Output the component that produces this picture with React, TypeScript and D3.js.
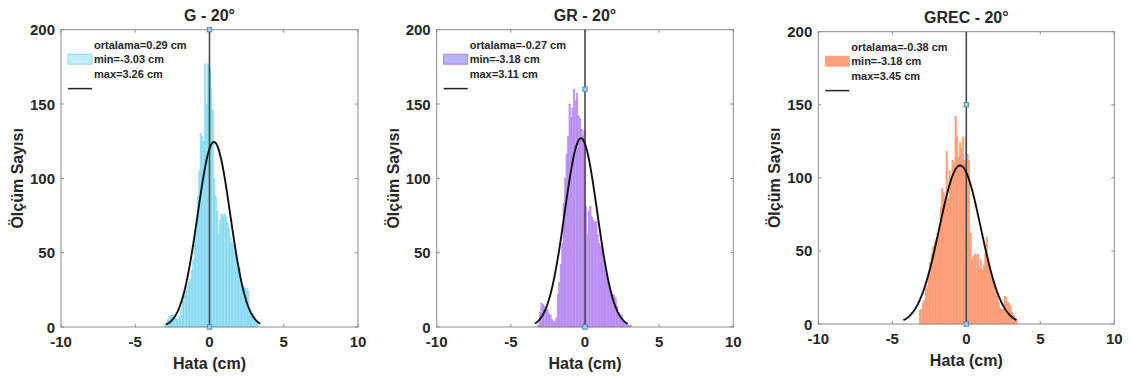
import React from "react";
import * as d3 from "d3";

// ---------- data ----------
const panelTitles = ["G - 20°", "GR - 20°", "GREC - 20°"];
const xTicks = [-10, -5, 0, 5, 10];
const yTicks = [0, 50, 100, 150, 200];

const errMeans = [0.29, -0.27, -0.38];
const errMins = [-3.03, -3.18, -3.18];
const errMaxs = [3.26, 3.11, 3.45];

const gCounts = [
  2, 3, 5, 7, 8, 8, 7, 6, 5, 5, 7, 12, 17, 21, 24, 27, 30, 32, 38, 45, 58, 65,
  88, 105, 130, 128, 125, 177, 150, 177, 175, 160, 146, 100, 88, 78, 62, 72, 76,
  74, 76, 74, 70, 66, 60, 57, 55, 52, 48, 42, 40, 32, 28, 27, 26, 26, 24, 12,
  10, 9, 7, 4, 3,
];
const grCounts = [
  1, 10, 16, 15, 14, 11, 12, 9, 8, 5, 4, 3, 6, 22, 30, 42, 56, 83, 100, 116,
  128, 150, 141, 147, 160, 152, 157, 142, 140, 133, 128, 132, 81, 62, 78, 81,
  74, 72, 70, 71, 62, 56, 54, 54, 45, 38, 36, 30, 25, 24, 22, 21, 19, 14, 10, 8,
  8, 5, 4, 2, 1, 1, 1,
];
const grecCounts = [
  9, 10, 14, 16, 24, 26, 36, 42, 48, 53, 56, 58, 62, 64, 80, 93, 90, 85, 118,
  86, 105, 100, 112, 110, 142, 128, 114, 124, 120, 128, 112, 128, 116, 112, 62,
  44, 46, 48, 47, 48, 39, 44, 37, 40, 48, 59, 45, 40, 32, 29, 26, 22, 19, 15,
  11, 10, 10, 19, 18, 15, 14, 12, 8, 6, 4, 2,
];
const allCounts = [gCounts, grCounts, grecCounts];

// fitted normal curve parameters
const fitMu = [0.3, -0.27, -0.42];
const fitSigma = [1.1, 1.1, 1.4];
const fitPeak = [124.5, 127, 108.5];
const fitLo = [-2.93, -3.38, -4.25];
const fitHi = [3.42, 2.88, 3.4];

const zeroMarkerTops = [200, 160, 150];

// ---------- styles / layout ----------
const layout = [
  { left: 61, top: 29.7, width: 297, height: 297.3, titleY: 21 },
  { left: 436.7, top: 29.7, width: 296.6, height: 297.3, titleY: 21 },
  { left: 818.3, top: 31.7, width: 296, height: 292.3, titleY: 23 },
];
const barFill = ["#a6e5f7", "#bcaaf3", "#ffa988"];
const barStroke = ["#6dd0f0", "#b86af6", "#ff8a5e"];
const legendFill = ["#bdeefb", "#b9b3f5", "#ffa07a"];
const legendStroke = ["#7fd6f2", "#b06cf5", "#ffa07a"];

const FONT = "'Liberation Sans', Arial, Helvetica, sans-serif";
const TXT = "#262626";

function Panel({ i }: { i: number }) {
  const L = layout[i];
  const counts = allCounts[i];
  const x = d3.scaleLinear().domain([-10, 10]).range([L.left, L.left + L.width]);
  const y = d3.scaleLinear().domain([0, 200]).range([L.top + L.height, L.top]);
  const bw = (errMaxs[i] - errMins[i]) / counts.length;
  const edges = counts.map((_, k) => errMins[i] + k * bw);

  const curveXs = d3.range(0, 101).map((k) => fitLo[i] + ((fitHi[i] - fitLo[i]) * k) / 100);
  const curvePts: [number, number][] = curveXs.map((v) => [
    v,
    fitPeak[i] * Math.exp(-0.5 * Math.pow((v - fitMu[i]) / fitSigma[i], 2)),
  ]);
  const line = d3
    .line<[number, number]>()
    .x((d) => x(d[0]))
    .y((d) => y(d[1]))
    .curve(d3.curveLinear);

  const axisColor = "#8c8c8c";
  const tickLen = 3;
  const bottom = L.top + L.height;
  const right = L.left + L.width;
  const cx = L.left + L.width / 2;

  const legLeft = L.left + 7;
  const legText = L.left + 33;
  const rowY = (r: number) => L.top + 14.8 + r * 14.7;

  const fmt = (v: number) => v.toFixed(2);

  return (
    <g>
      {/* bars */}
      {counts.map((c, k) =>
        c > 0 ? (
          <rect
            key={k}
            x={x(edges[k])}
            y={y(c)}
            width={x(edges[k] + bw) - x(edges[k])}
            height={y(0) - y(c)}
            fill={barFill[i]}
            stroke={barStroke[i]}
            strokeWidth={0.45}
          />
        ) : null
      )}
      {/* axes box */}
      <rect x={L.left} y={L.top} width={L.width} height={L.height} fill="none" stroke={axisColor} strokeWidth={1} />
      {/* ticks */}
      {xTicks.map((t) => (
        <g key={"xt" + t}>
          <line x1={x(t)} x2={x(t)} y1={bottom} y2={bottom - tickLen} stroke={axisColor} />
          <line x1={x(t)} x2={x(t)} y1={L.top} y2={L.top + tickLen} stroke={axisColor} />
          <text
            x={x(t)}
            y={bottom + 20}
            textAnchor="middle"
            fontFamily={FONT}
            fontWeight="bold"
            fontSize={15}
            fill={TXT}
          >
            {t}
          </text>
        </g>
      ))}
      {yTicks.map((t) => (
        <g key={"yt" + t}>
          <line x1={L.left} x2={L.left + tickLen} y1={y(t)} y2={y(t)} stroke={axisColor} />
          <line x1={right} x2={right - tickLen} y1={y(t)} y2={y(t)} stroke={axisColor} />
          <text
            x={L.left - 6}
            y={y(t) + 5.5}
            textAnchor="end"
            fontFamily={FONT}
            fontWeight="bold"
            fontSize={15}
            fill={TXT}
          >
            {t}
          </text>
        </g>
      ))}
      {/* zero line */}
      <line x1={x(0)} x2={x(0)} y1={L.top} y2={bottom} stroke="#4a4a4a" strokeWidth={1.6} />
      {[0, zeroMarkerTops[i]].map((m) => (
        <rect
          key={"m" + m}
          x={x(0) - 2.2}
          y={y(m) - 2.2}
          width={4.4}
          height={4.4}
          fill="#a9cbe8"
          stroke="#3f86c4"
          strokeWidth={0.9}
        />
      ))}
      {/* fitted curve */}
      <path d={line(curvePts) || ""} fill="none" stroke="#111" strokeWidth={1.9} />
      {/* legend */}
      <text x={legText} y={rowY(0) + 4} fontFamily={FONT} fontWeight="bold" fontSize={11} fill={TXT}>
        {"ortalama=" + fmt(errMeans[i]) + " cm"}
      </text>
      <rect
        x={legLeft}
        y={rowY(1) - 5}
        width={24}
        height={10}
        fill={legendFill[i]}
        stroke={legendStroke[i]}
        strokeWidth={0.8}
      />
      <text x={legText} y={rowY(1) + 4} fontFamily={FONT} fontWeight="bold" fontSize={11} fill={TXT}>
        {"min=" + fmt(errMins[i]) + " cm"}
      </text>
      <text x={legText} y={rowY(2) + 4} fontFamily={FONT} fontWeight="bold" fontSize={11} fill={TXT}>
        {"max=" + fmt(errMaxs[i]) + " cm"}
      </text>
      <line x1={legLeft} x2={legLeft + 24} y1={rowY(3)} y2={rowY(3)} stroke="#222" strokeWidth={1.5} />
      {/* titles */}
      <text x={cx} y={L.titleY} textAnchor="middle" fontFamily={FONT} fontWeight="bold" fontSize={16} fill={TXT}>
        {panelTitles[i]}
      </text>
      <text
        x={cx}
        y={bottom + 42}
        textAnchor="middle"
        fontFamily={FONT}
        fontWeight="bold"
        fontSize={16}
        fill={TXT}
      >
        Hata (cm)
      </text>
      <text
        transform={`translate(${L.left - 38},${L.top + L.height / 2}) rotate(-90)`}
        textAnchor="middle"
        fontFamily={FONT}
        fontWeight="bold"
        fontSize={16}
        fill={TXT}
      >
        Ölçüm Sayısı
      </text>
    </g>
  );
}

export default function App() {
  return (
    <svg
      width={1131}
      height={378}
      style={{ position: "absolute", left: 0, top: 0, background: "#fff" }}
    >
      <rect x={0} y={0} width={1131} height={378} fill="#fff" />
      {[0, 1, 2].map((i) => (
        <Panel key={i} i={i} />
      ))}
    </svg>
  );
}
